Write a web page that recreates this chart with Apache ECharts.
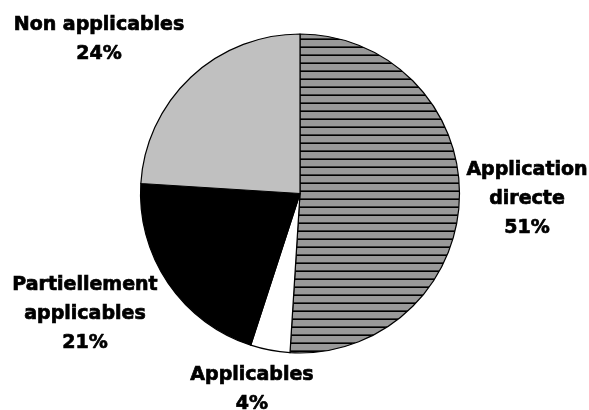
<!DOCTYPE html>
<html>
<head>
<meta charset="utf-8">
<script src="https://cdn.jsdelivr.net/npm/echarts@6/dist/echarts.min.js"></script>
<style>
html,body{margin:0;padding:0;background:#fff;}
#chart{width:589px;height:410px;}
</style>
</head>
<body>
<div id="chart"></div>
<script>
// Data
var categories = ['Application\ndirecte', 'Applicables', 'Partiellement\napplicables', 'Non applicables'];
var values = [51, 4, 21, 24];
var percentLabels = ['51%', '4%', '21%', '24%'];

// Styles / layout (not data)
function stripePattern() {
  var c = document.createElement('canvas');
  c.width = 8; c.height = 8;
  var ctx = c.getContext('2d');
  ctx.fillStyle = '#999999';
  ctx.fillRect(0, 0, 8, 8);
  ctx.fillStyle = '#3a3a3a';
  ctx.fillRect(0, 6, 8, 1);
  ctx.fillStyle = '#000000';
  ctx.fillRect(0, 7, 8, 1);
  return c;
}
var sliceColors = [
  { image: stripePattern(), repeat: 'repeat' },
  '#ffffff',
  '#000000',
  '#c0c0c0'
];
var labelAnchors = [[527, 199.5], [252, 389.5], [85, 314], [99, 39.5]];

var chart = echarts.init(document.getElementById('chart'), null, { renderer: 'canvas' });
chart.setOption({
  animation: false,
  backgroundColor: '#ffffff',
  series: [{
    type: 'pie',
    center: [300, 193.5],
    radius: [0, 159.5],
    startAngle: 90,
    clockwise: true,
    avoidLabelOverlap: false,
    silent: true,
    data: categories.map(function (name, i) {
      return {
        name: name,
        value: values[i],
        itemStyle: { color: sliceColors[i] }
      };
    }),
    itemStyle: { borderColor: '#000000', borderWidth: 1.2 },
    label: {
      show: true,
      position: 'outside',
      formatter: function (p) { return categories[p.dataIndex] + '\n' + percentLabels[p.dataIndex]; },
      fontFamily: 'DejaVu Sans',
      fontWeight: 'bold',
      fontSize: 19,
      lineHeight: 29,
      color: '#000000',
      textBorderColor: '#000000',
      textBorderWidth: 0.7,
      align: 'center'
    },
    labelLine: { show: false },
    labelLayout: function (params) {
      var a = labelAnchors[params.dataIndex];
      return { x: a[0], y: a[1], align: 'center', verticalAlign: 'middle' };
    },
    emphasis: { disabled: true }
  }]
});
</script>
</body>
</html>
